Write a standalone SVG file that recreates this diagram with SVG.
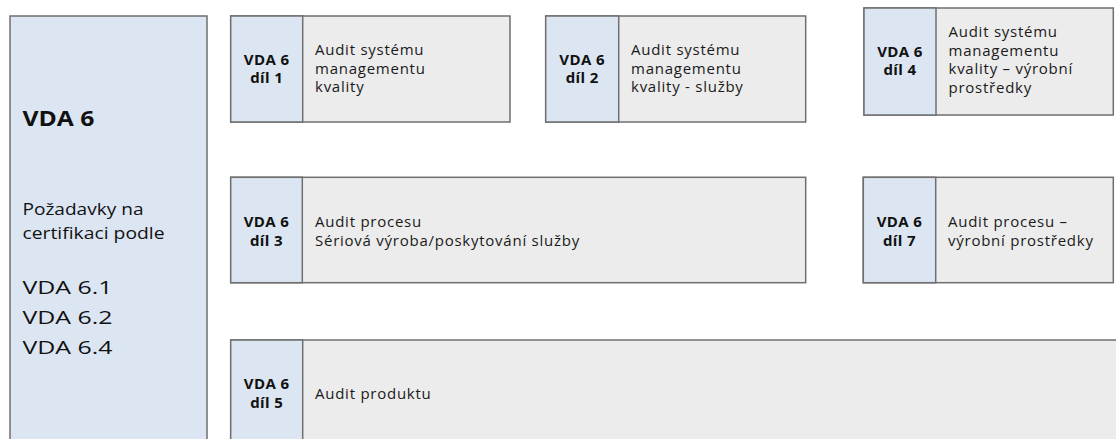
<svg xmlns="http://www.w3.org/2000/svg" width="1116" height="439" viewBox="0 0 1116 439">
  <style>
    .blue { fill: #dce6f2; stroke: #6f6f6f; stroke-width: 1.5; }
    .grey { fill: #ececec; stroke: #6f6f6f; stroke-width: 1.5; }
    .lbl { font-family: "Open Sans", "DejaVu Sans", sans-serif; font-weight: bold; font-size: 15px; letter-spacing: 0.4px; fill: #111; text-anchor: middle; }
    .txt { font-family: "Open Sans", "DejaVu Sans", sans-serif; font-size: 15px; letter-spacing: 0.75px; fill: #1a1a1a; }
    .big { font-family: "Open Sans", "DejaVu Sans", sans-serif; fill: #111; }
  </style>

  <!-- overview column -->
  <g id="vda6">
    <rect class="blue" x="10" y="16" width="197" height="440"/>
    <text class="big" x="22.5" y="126" font-size="21" font-weight="bold" textLength="72" lengthAdjust="spacingAndGlyphs">VDA 6</text>
    <text class="big" x="22.5" y="215" font-size="17" textLength="121" lengthAdjust="spacingAndGlyphs">Požadavky na</text>
    <text class="big" x="22.5" y="238.5" font-size="17" textLength="142" lengthAdjust="spacingAndGlyphs">certifikaci podle</text>
    <text class="big" x="22.5" y="293.5" font-size="19" textLength="90" lengthAdjust="spacingAndGlyphs">VDA 6.1</text>
    <text class="big" x="22.5" y="323.5" font-size="19" textLength="90" lengthAdjust="spacingAndGlyphs">VDA 6.2</text>
    <text class="big" x="22.5" y="353.5" font-size="19" textLength="90" lengthAdjust="spacingAndGlyphs">VDA 6.4</text>
  </g>

  <!-- part 1 -->
  <g id="dil1">
    <rect class="grey" x="230.7" y="16" width="279.3" height="106"/>
    <rect class="blue" x="230.7" y="16" width="72" height="106"/>
    <text class="lbl" x="266.7" y="65">VDA 6</text>
    <text class="lbl" x="266.7" y="83">díl 1</text>
    <text class="txt" x="315" y="55">Audit systému</text>
    <text class="txt" x="315" y="73.5">managementu</text>
    <text class="txt" x="315" y="92">kvality</text>
  </g>

  <!-- part 2 -->
  <g id="dil2">
    <rect class="grey" x="545.7" y="16" width="260" height="106"/>
    <rect class="blue" x="545.7" y="16" width="73" height="106"/>
    <text class="lbl" x="582.2" y="65">VDA 6</text>
    <text class="lbl" x="582.2" y="83">díl 2</text>
    <text class="txt" x="631" y="55">Audit systému</text>
    <text class="txt" x="631" y="73.5">managementu</text>
    <text class="txt" x="631" y="92">kvality - služby</text>
  </g>

  <!-- part 4 -->
  <g id="dil4">
    <rect class="grey" x="864" y="8" width="249.3" height="107"/>
    <rect class="blue" x="864" y="8" width="72" height="107"/>
    <text class="lbl" x="900" y="57">VDA 6</text>
    <text class="lbl" x="900" y="75">díl 4</text>
    <text class="txt" x="948.5" y="37">Audit systému</text>
    <text class="txt" x="948.5" y="55.5">managementu</text>
    <text class="txt" x="948.5" y="74">kvality – výrobní</text>
    <text class="txt" x="948.5" y="92.5">prostředky</text>
  </g>

  <!-- part 3 -->
  <g id="dil3">
    <rect class="grey" x="230.7" y="177.3" width="575" height="105.4"/>
    <rect class="blue" x="230.7" y="177.3" width="71.6" height="105.4"/>
    <text class="lbl" x="266.5" y="227">VDA 6</text>
    <text class="lbl" x="266.5" y="245.5">díl 3</text>
    <text class="txt" x="315" y="227">Audit procesu</text>
    <text class="txt" x="315" y="245.5">Sériová výroba/poskytování služby</text>
  </g>

  <!-- part 7 -->
  <g id="dil7">
    <rect class="grey" x="863.3" y="177.3" width="250" height="105.4"/>
    <rect class="blue" x="863.3" y="177.3" width="72.4" height="105.4"/>
    <text class="lbl" x="899.5" y="227">VDA 6</text>
    <text class="lbl" x="899.5" y="245.5">díl 7</text>
    <text class="txt" x="948" y="227">Audit procesu –</text>
    <text class="txt" x="948" y="245.5">výrobní prostředky</text>
  </g>

  <!-- part 5 -->
  <g id="dil5">
    <rect class="grey" x="230.7" y="340" width="900" height="120"/>
    <rect class="blue" x="230.7" y="340" width="72" height="120"/>
    <text class="lbl" x="266.7" y="389">VDA 6</text>
    <text class="lbl" x="266.7" y="407.5">díl 5</text>
    <text class="txt" x="315" y="398.5">Audit produktu</text>
  </g>

  <g id="connectors"/>
</svg>
